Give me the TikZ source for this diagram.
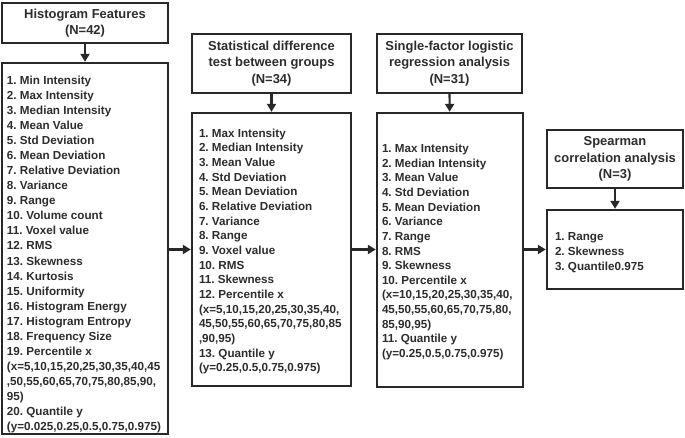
\documentclass[tikz,border=0pt]{standalone}
\usepackage{fontspec}
\setmainfont{Liberation Sans}
\frenchspacing
\usetikzlibrary{arrows.meta}
\definecolor{edgecol}{RGB}{40,40,40}
\definecolor{txtcol}{RGB}{45,45,45}
\tikzset{
  hbox/.style={draw=edgecol, line width=2.4bp, fill=white, text=txtcol, align=center,
    inner sep=0pt, font=\bfseries\fontsize{13}{16.5}\selectfont},
  lbox/.style={draw=edgecol, line width=2.4bp, fill=white, inner sep=0pt},
  ltext/.style={anchor=west, text=txtcol, align=left, inner sep=0pt,
    font=\bfseries\fontsize{11.7}{14.7}\selectfont},
  flow/.style={draw=edgecol, line width=2.2bp, -{Triangle[length=8bp,width=9bp]}}
}
\begin{document}
\begin{tikzpicture}[x=1bp,y=-1bp]
\useasboundingbox (0,0) rectangle (685,438);
% column 1
\node[hbox, minimum width=166bp, minimum height=40bp] (h1) at (85,23)
  {Histogram Features\\(N=42)};
\node[lbox, minimum width=166bp, minimum height=371bp] (l1) at (85,248.5) {};
\node[ltext, font=\bfseries\fontsize{11.7}{15.1}\selectfont] (t1) at ([xshift=6bp,yshift=-6bp]l1.west)
  {1. Min Intensity\\2. Max Intensity\\3. Median Intensity\\4. Mean Value\\5. Std Deviation\\
   6. Mean Deviation\\7. Relative Deviation\\8. Variance\\9. Range\\10. Volume count\\
   11. Voxel value\\12. RMS\\13. Skewness\\14. Kurtosis\\15. Uniformity\\16. Histogram Energy\\
   17. Histogram Entropy\\18. Frequency Size\\19. Percentile x\\(x=5,10,15,20,25,30,35,40,45\\
   ,50,55,60,65,70,75,80,85,90,\\95)\\20. Quantile y\\(y=0.025,0.25,0.5,0.75,0.975)};
% column 2
\node[hbox, minimum width=159bp, minimum height=59bp] (h2) at (271.5,63.5)
  {Statistical difference\\test between groups\\(N=34)};
\node[lbox, minimum width=159bp, minimum height=273bp] (l2) at (271.5,249.5) {};
\node[ltext] (t2) at ([xshift=8bp,yshift=-2bp]l2.west)
  {1. Max Intensity\\2. Median Intensity\\3. Mean Value\\4. Std Deviation\\5. Mean Deviation\\
   6. Relative Deviation\\7. Variance\\8. Range\\9. Voxel value\\10. RMS\\11. Skewness\\
   12. Percentile x\\(x=5,10,15,20,25,30,35,40,\\45,50,55,60,65,70,75,80,85\\,90,95)\\
   13. Quantile y\\(y=0.25,0.5,0.75,0.975)};
% column 3
\node[hbox, minimum width=145bp, minimum height=59bp] (h3) at (449.5,63.5)
  {Single-factor logistic\\regression analysis\\(N=31)};
\node[lbox, minimum width=146bp, minimum height=274bp] (l3) at (450,250) {};
\node[ltext] (t3) at ([xshift=6bp,yshift=-2bp]l3.west)
  {1. Max Intensity\\2. Median Intensity\\3. Mean Value\\4. Std Deviation\\5. Mean Deviation\\
   6. Variance\\7. Range\\8. RMS\\9. Skewness\\10. Percentile x\\(x=10,15,20,25,30,35,40,\\
   45,50,55,60,65,70,75,80,\\85,90,95)\\11. Quantile y\\(y=0.25,0.5,0.75,0.975)};
% column 4
\node[hbox, minimum width=136bp, minimum height=58bp] (h4) at (615,159)
  {Spearman\\correlation analysis\\(N=3)};
\node[lbox, minimum width=136bp, minimum height=79bp] (l4) at (615,249.5) {};
\node[ltext] (t4) at ([xshift=9bp,yshift=-3bp]l4.west)
  {1. Range\\2. Skewness\\3. Quantile0.975};
% connectors
\draw[flow] (h1) -- (l1);
\draw[flow] (h2) -- (l2);
\draw[flow] (h3) -- (l3);
\draw[flow] (h4) -- (l4);
\draw[flow] (l1.east |- l2.west) -- (l2.west);
\draw[flow] (l2.east) -- (l3.west |- l2.east);
\draw[flow] (l3.east |- l4.west) -- (l4.west);
\end{tikzpicture}
\end{document}
